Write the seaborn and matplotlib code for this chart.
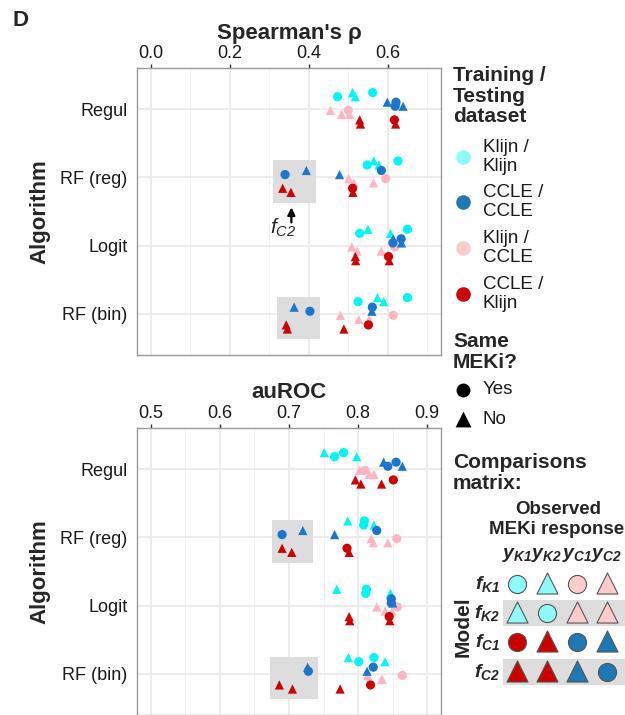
import numpy as np
import pandas as pd
import matplotlib
matplotlib.use("Agg")
import matplotlib.pyplot as plt
import seaborn as sns
from matplotlib.patches import Rectangle

sns.set_style("white")
plt.rcParams["font.family"] = ["Liberation Sans", "DejaVu Sans"]
plt.rcParams["mathtext.fontset"] = "custom"
plt.rcParams["mathtext.it"] = "Liberation Sans:italic"
plt.rcParams["mathtext.rm"] = "Liberation Sans:italic"
plt.rcParams["mathtext.bf"] = "Liberation Sans:italic:bold"

# data -------------------------------------------------------------
algorithms = ["Regul", "RF (reg)", "Logit", "RF (bin)"]
models = ["K1", "K2", "C1", "C2"]          # f_K1 ... f_C2 (rows of the matrix)
observed = ["K1", "K2", "C1", "C2"]        # y_K1 ... y_C2 (columns)
same_meki = [[1, 0, 1, 0],
             [0, 1, 0, 0],
             [1, 0, 1, 0],
             [0, 0, 0, 1]]
dataset_order = ["Klijn / Klijn", "CCLE / CCLE", "Klijn / CCLE", "CCLE / Klijn"]

# values per algorithm, rows = model, cols = observed response
spearman = {
    "Regul":    [[0.562, 0.518, 0.500, 0.483],
                 [0.511, 0.473, 0.455, 0.503],
                 [0.617, 0.620, 0.621, 0.639],
                 [0.529, 0.531, 0.599, 0.619]],
    "RF (reg)": [[0.626, 0.578, 0.595, 0.564],
                 [0.565, 0.548, 0.501, 0.514],
                 [0.511, 0.512, 0.584, 0.478],
                 [0.334, 0.355, 0.394, 0.340]],
    "Logit":    [[0.650, 0.607, 0.618, 0.584],
                 [0.550, 0.529, 0.509, 0.523],
                 [0.602, 0.604, 0.634, 0.635],
                 [0.518, 0.519, 0.614, 0.613]],
    "RF (bin)": [[0.650, 0.590, 0.614, 0.553],
                 [0.574, 0.525, 0.480, 0.527],
                 [0.551, 0.489, 0.561, 0.560],
                 [0.343, 0.346, 0.363, 0.403]],
}
auroc = {
    "Regul":    [[0.779, 0.798, 0.810, 0.816],
                 [0.751, 0.766, 0.802, 0.823],
                 [0.851, 0.834, 0.855, 0.864],
                 [0.796, 0.804, 0.837, 0.843]],
    "RF (reg)": [[0.809, 0.823, 0.856, 0.843],
                 [0.785, 0.808, 0.819, 0.822],
                 [0.784, 0.787, 0.827, 0.766],
                 [0.690, 0.704, 0.720, 0.690]],
    "Logit":    [[0.812, 0.847, 0.857, 0.849],
                 [0.769, 0.811, 0.827, 0.839],
                 [0.845, 0.846, 0.848, 0.850],
                 [0.787, 0.788, 0.849, 0.848]],
    "RF (bin)": [[0.823, 0.839, 0.864, 0.835],
                 [0.786, 0.801, 0.814, 0.834],
                 [0.818, 0.774, 0.822, 0.813],
                 [0.686, 0.705, 0.727, 0.728]],
}

# styling ----------------------------------------------------------
point_pal = {"Klijn / Klijn": "#00F5F5", "CCLE / CCLE": "#1C76CF",
             "Klijn / CCLE": "#FFB6C1", "CCLE / Klijn": "#CC0000"}
pale_pal = {"Klijn / Klijn": "#8FFAFA", "CCLE / CCLE": "#1F77B4",
            "Klijn / CCLE": "#FFCCCC", "CCLE / Klijn": "#CC0000"}
dodge = {"Klijn / Klijn": -0.21, "CCLE / CCLE": -0.07,
         "Klijn / CCLE": 0.05, "CCLE / Klijn": 0.19}
jit = [-0.03, 0.03, -0.03, 0.03]


def make_df(values):
    rows = []
    for ai, alg in enumerate(algorithms):
        for mi, m in enumerate(models):
            for oi, o in enumerate(observed):
                train = "Klijn" if m.startswith("K") else "CCLE"
                test = "Klijn" if o.startswith("K") else "CCLE"
                ds = f"{train} / {test}"
                rows.append(dict(alg=alg, model=m, obs=o, dataset=ds,
                                 same="Yes" if same_meki[mi][oi] else "No",
                                 value=values[alg][mi][oi],
                                 ypos=ai + dodge[ds] + jit[oi]))
    return pd.DataFrame(rows)


W, H = 625, 715
fig = plt.figure(figsize=(W / 100, H / 100), dpi=100)


def panel(df, rect, xlim, ticks, title):
    ax = fig.add_axes(rect)
    # grey boxes around f_C2 in the RF algorithms
    span = xlim[1] - xlim[0]
    for alg in ["RF (reg)", "RF (bin)"]:
        sub = df[(df.alg == alg) & (df.model == "C2")]
        x0 = sub.value.min() - 0.032 * span
        x1 = sub.value.max() + 0.032 * span
        y0 = sub.ypos.min() - 0.15
        y1 = sub.ypos.max() + 0.15
        ax.add_patch(Rectangle((x0, y0), x1 - x0, y1 - y0, facecolor="#DDDDDD",
                               edgecolor="none", zorder=1))
    sns.scatterplot(data=df, x="value", y="ypos", hue="dataset", hue_order=dataset_order,
                    palette=point_pal, style="same", style_order=["Yes", "No"],
                    markers={"Yes": "o", "No": "^"}, s=44, linewidth=0,
                    legend=False, ax=ax, zorder=3)
    ax.set_yticks(range(len(algorithms)))
    ax.set_yticklabels(algorithms)
    ax.set_xticks(ticks)
    ax.set_xticklabels([f"{t:.1f}" for t in ticks])
    step = ticks[1] - ticks[0]
    minor = np.arange(ticks[0] - step / 2, xlim[1], step)
    minor = minor[(minor > xlim[0]) & (minor < xlim[1])]
    ax.set_xticks(minor, minor=True)
    ax.set_xlim(*xlim)
    ax.set_ylim(3.6, -0.6)
    ax.xaxis.tick_top()
    ax.xaxis.set_label_position("top")
    ax.tick_params(axis="both", which="major", labelsize=13, width=1,
                   color="#333333", labelcolor="#1a1a1a")
    ax.tick_params(axis="x", which="major", length=3, pad=1)
    ax.tick_params(axis="y", which="major", length=3.5, pad=3.5)
    ax.tick_params(axis="x", which="minor", length=0)
    ax.grid(True, which="major", color="#EBEBEB", lw=1.3, zorder=0)
    ax.grid(True, which="minor", axis="x", color="#F2F2F2", lw=0.7, zorder=0)
    ax.set_axisbelow(True)
    for sp in ax.spines.values():
        sp.set_color("#9A9A9A")
        sp.set_linewidth(1.0)
    ax.set_xlabel(title, fontsize=16, fontweight="bold", labelpad=5)
    ax.set_ylabel("Algorithm", fontsize=16, fontweight="bold", labelpad=7)
    return ax


df_s = make_df(spearman)
df_a = make_df(auroc)
ax1 = panel(df_s, [137 / W, 1 - 355 / H, 304 / W, 287 / H], (-0.035, 0.735),
            [0.0, 0.2, 0.4, 0.6], "Spearman's ρ")
ax2 = panel(df_a, [137 / W, 0.0, 304 / W, 287 / H], (0.48, 0.92),
            [0.5, 0.6, 0.7, 0.8, 0.9], "auROC")

# f_C2 arrow annotation
fc2 = df_s[(df_s.alg == "RF (reg)") & (df_s.model == "C2")]
ax_x = (fc2.value.min() + fc2.value.max()) / 2 - 0.008
ax1.annotate("", xy=(ax_x, 1.44), xytext=(ax_x, 1.66),
             arrowprops=dict(arrowstyle="-|>", mutation_scale=11,
                             lw=1.6, color="black", shrinkA=0, shrinkB=0), zorder=4)
ax1.text(ax_x - 0.022, 1.74, r"$f_{C2}$", fontsize=15, ha="center", va="center")

# overlay in pixel coordinates for legends / matrix
ov = fig.add_axes([0, 0, 1, 1])
ov.set_xlim(0, W)
ov.set_ylim(H, 0)
ov.axis("off")
ov.patch.set_alpha(0)

ov.text(12, 20, "D", fontsize=16, fontweight="bold", va="center", ha="left")

ov.text(453, 66, "Training /\nTesting\ndataset", fontsize=15, fontweight="bold",
        va="top", ha="left", linespacing=1.1)
legend_y = [157, 202, 248, 294]
for ds, y in zip(dataset_order, legend_y):
    ov.scatter([463], [y], s=110, color=pale_pal[ds], linewidth=0)
    ov.text(483, y, ds.replace(" / ", " /\n"), fontsize=13.5, va="center",
            ha="left", linespacing=1.15, color="#1a1a1a")
ov.text(453, 332, "Same\nMEKi?", fontsize=15, fontweight="bold", va="top",
        ha="left", linespacing=1.15)
ov.scatter([463], [390], s=100, marker="o", color="black", linewidth=0)
ov.scatter([463], [419], s=130, marker="^", color="black", linewidth=0)
ov.text(483, 390, "Yes", fontsize=13.5, va="center", ha="left", color="#1a1a1a")
ov.text(483, 420, "No", fontsize=13.5, va="center", ha="left", color="#1a1a1a")

# comparisons matrix
ov.text(453, 453, "Comparisons\nmatrix:", fontsize=15, fontweight="bold",
        va="top", ha="left", linespacing=1.15)
ov.text(558, 510, "Observed", fontsize=13.5, fontweight="bold", ha="center", va="center")
ov.text(557, 529, "MEKi response", fontsize=13.5, fontweight="bold", ha="center", va="center")
col_x = [517 + 30 * i for i in range(4)]
row_y = [584 + 29.2 * j for j in range(4)]
for i, o in enumerate(observed):
    ov.text(col_x[i], 555, r"$\mathbf{y}_{\mathbf{%s}}$" % o, fontsize=14,
            ha="center", va="center")
for j, m in enumerate(models):
    if j % 2 == 1:
        ov.add_patch(Rectangle((503, row_y[j] - 13), W - 503, 26,
                               facecolor="#DDDDDD", edgecolor="none", zorder=0))
    ov.text(500, row_y[j], r"$\mathbf{f}_{\mathbf{%s}}$" % m, fontsize=14,
            ha="right", va="center")
    for i, o in enumerate(observed):
        train = "Klijn" if m.startswith("K") else "CCLE"
        test = "Klijn" if o.startswith("K") else "CCLE"
        ds = f"{train} / {test}"
        if same_meki[j][i]:
            ov.scatter([col_x[i]], [row_y[j]], s=170, marker="o", color=pale_pal[ds],
                       edgecolor="#555555", linewidth=0.8, zorder=2)
        else:
            ov.scatter([col_x[i]], [row_y[j] - 1], s=230, marker="^", color=pale_pal[ds],
                       edgecolor="#555555", linewidth=0.8, zorder=2)
ov.text(463, 627, "Model", fontsize=15, fontweight="bold", rotation=90,
        ha="center", va="center")

fig.savefig("out.png", dpi=100)
